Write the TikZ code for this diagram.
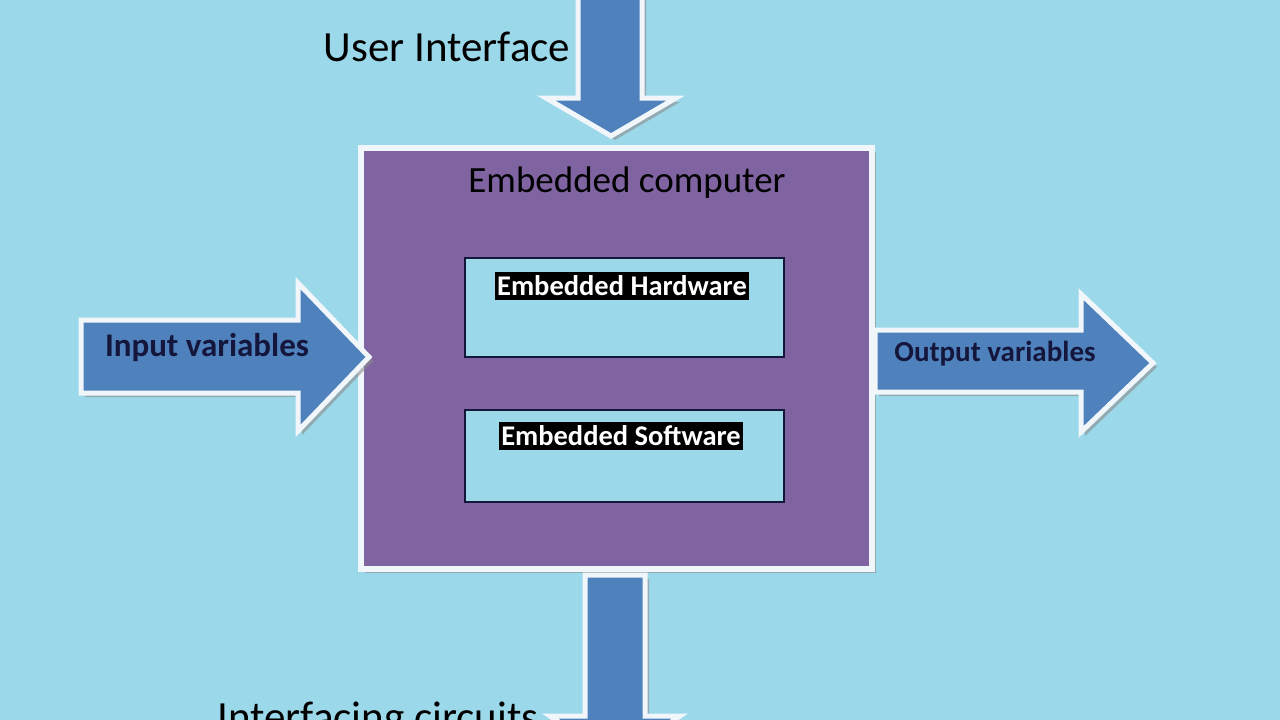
\documentclass[tikz,border=0pt]{standalone}
\usepackage{fontspec}
\setmainfont{Carlito}
\usetikzlibrary{shadows}

\definecolor{bgblue}{RGB}{155,216,233}
\definecolor{arrowblue}{RGB}{79,129,189}
\definecolor{boxpurple}{RGB}{128,100,162}
\definecolor{navy}{RGB}{20,22,60}
\definecolor{edgewhite}{RGB}{240,246,250}

\tikzset{
  blockarrow/.style={fill=arrowblue, draw=edgewhite, line width=5pt,
    drop shadow={shadow xshift=4pt, shadow yshift=-4pt, fill=black!45, opacity=.6}},
  mainbox/.style={fill=boxpurple, draw=edgewhite, line width=6pt,
    drop shadow={shadow xshift=4pt, shadow yshift=-4pt, fill=black!45, opacity=.6}},
  innerbox/.style={draw=navy, line width=1.2pt, fill=bgblue, minimum width=319pt, inner sep=0pt},
  tag/.style={fill=black, text=white, font=\bfseries\fontsize{28.5}{30}\selectfont,
    inner xsep=2pt, inner ysep=0pt, minimum height=28pt},
  biglabel/.style={font=\fontsize{43}{48}\selectfont, inner sep=0pt},
  arrowlabel/.style={font=\bfseries\fontsize{#1}{34}\selectfont, text=navy, inner sep=0pt}
}

\begin{document}
\begin{tikzpicture}[x=1pt, y=-1pt]
\fill[bgblue] (0,0) rectangle (1280,720);
\useasboundingbox (0,0) rectangle (1280,720);

% embedded computer
\node[mainbox, minimum width=511pt, minimum height=421pt] (computer) at (616.5,358.5) {};
\node[font=\fontsize{37}{40}\selectfont, inner sep=0pt] (title) at (627,183) {Embedded computer};

\node[innerbox, minimum height=99pt] (hardware) at (624.5,307.5) {};
\node[innerbox, minimum height=92pt] (software) at (624.5,456) {};
\node[tag] (hwtag) at (622,286) {Embedded Hardware};
\node[tag] (swtag) at (621,436) {Embedded Software};

% arrows
\draw[blockarrow] (578,-10) -- (642,-10) -- (642,98) -- (676,98) -- (611,136)
  -- (546,98) -- (578,98) -- cycle;
\draw[blockarrow] (81,320) -- (298,320) -- (298,283) -- (369,357) -- (298,431)
  -- (298,393) -- (81,393) -- cycle;
\draw[blockarrow] (875,330) -- (1081,330) -- (1081,294) -- (1153,363) -- (1081,432)
  -- (1081,392) -- (875,392) -- cycle;
\draw[blockarrow] (585,575) -- (645,575) -- (645,716) -- (680,716) -- (615,760)
  -- (550,716) -- (585,716) -- cycle;

% labels
\node[biglabel] (ui) at (447,47) {User Interface};
\node[biglabel, anchor=base] (ic) at (378,731) {Interfacing circuits};
\node[arrowlabel=33] (invar) at (207,348) {Input variables};
\node[arrowlabel=29] (outvar) at (995,354) {Output variables};
\end{tikzpicture}
\end{document}
